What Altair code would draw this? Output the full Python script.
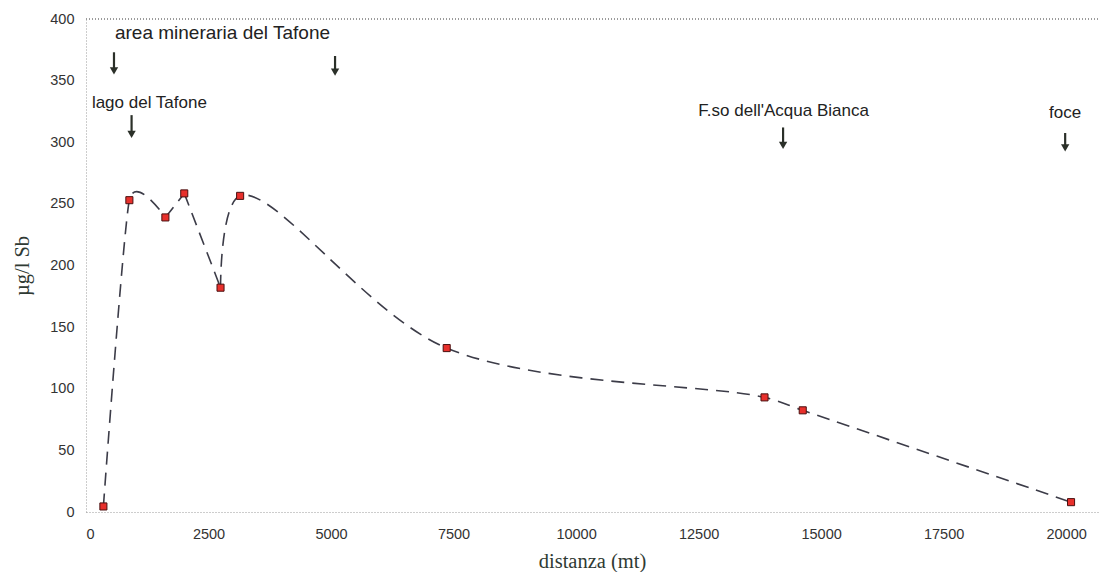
import altair as alt
import pandas as pd

# ---- data ----
dist = [355, 885, 1620, 2005, 2745, 3145, 7360, 13845, 14625, 20100]
sb = [4.5, 253, 239, 258.5, 182, 256.5, 133, 93, 82.5, 8]
# indices where the smoothed curve has a corner (curve is split there)
corner_idx = [2, 3, 4]

x_ticks = [0, 2500, 5000, 7500, 10000, 12500, 15000, 17500, 20000]
y_ticks = [0, 50, 100, 150, 200, 250, 300, 350, 400]

ann_text = ["area mineraria del Tafone", "lago del Tafone", "F.so dell'Acqua Bianca", "foce"]
ann_x = [590, 120, 14235, 19980]
ann_y = [388.5, 332, 325.5, 324]
ann_align = ["left", "left", "center", "center"]

arrow_x = [571, 5082, 930, 14224, 19980]
arrow_top = [373, 370, 322, 312, 307.5]
arrow_tip = [354.5, 353.5, 303, 294, 292]

XMAX = 20650
YMAX = 400

# ---- tables ----
pts = pd.DataFrame({"dist": dist, "sb": sb})
bounds = [0] + corner_idx + [len(dist) - 1]
rows = []
for s in range(len(bounds) - 1):
    for i in range(bounds[s], bounds[s + 1] + 1):
        rows.append({"dist": dist[i], "sb": sb[i], "seg": s, "order": i})
line_df = pd.DataFrame(rows)
first_seg = line_df[line_df.seg == 0]
other_seg = line_df[line_df.seg > 0]

ann_df = pd.DataFrame({"t": ann_text, "x": ann_x, "y": ann_y, "a": ann_align})
arr_df = pd.DataFrame({"x": arrow_x, "top": arrow_top, "tip": arrow_tip})
arr_df["shaft_end"] = [t + 5 for t in arrow_tip]
arr_df["head"] = [t + 3.4 for t in arrow_tip]

xs = alt.Scale(domain=[0, XMAX], nice=False, zero=False)
ys = alt.Scale(domain=[0, YMAX], nice=False)

x_axis = alt.Axis(values=x_ticks, title="distanza (mt)", grid=False, ticks=False,
                  labelPadding=15, titlePadding=11, format="d")
y_axis = alt.Axis(values=y_ticks, title="µg/l Sb", grid=False, ticks=False,
                  labelPadding=12, titlePadding=17, format="d")

line_style = dict(color="#3c3c48", strokeWidth=1.6, strokeDash=[13, 8])

line0 = alt.Chart(first_seg).mark_line(
    interpolate="cardinal", tension=0.45, **line_style
).encode(
    x=alt.X("dist:Q", scale=xs, axis=x_axis),
    y=alt.Y("sb:Q", scale=ys, axis=y_axis),
    order="order:Q",
)

line = alt.Chart(other_seg).mark_line(
    interpolate="catmull-rom", **line_style
).encode(
    x=alt.X("dist:Q", scale=xs),
    y=alt.Y("sb:Q", scale=ys),
    detail="seg:N",
    order="order:Q",
)

points = alt.Chart(pts).mark_point(
    shape="square", filled=True, fill="#e8302c", stroke="#4a1010",
    strokeWidth=1, size=50, opacity=1
).encode(x=alt.X("dist:Q", scale=xs), y=alt.Y("sb:Q", scale=ys))

top_border = alt.Chart(pts).mark_rule(
    color="#9a9a9a", strokeDash=[1, 2], strokeWidth=1
).encode(y=alt.datum(YMAX, scale=ys), x=alt.value(0), x2=alt.value(1012))

shafts = alt.Chart(arr_df).mark_rule(color="#2b3029", strokeWidth=2.2).encode(
    x=alt.X("x:Q", scale=xs), y=alt.Y("top:Q", scale=ys), y2="shaft_end:Q"
)
heads = alt.Chart(arr_df).mark_point(
    shape="triangle-down", filled=True, color="#2b3029", size=70, opacity=1
).encode(x=alt.X("x:Q", scale=xs), y=alt.Y("head:Q", scale=ys))

big_label = alt.Chart(ann_df.iloc[[0]]).mark_text(
    align="left", baseline="middle", font="Liberation Sans", fontSize=19, color="#222222"
).encode(x=alt.X("x:Q", scale=xs), y=alt.Y("y:Q", scale=ys), text="t:N")
left_labels = alt.Chart(ann_df.iloc[[1]]).mark_text(
    align="left", baseline="middle", font="Liberation Sans", fontSize=17, color="#222222"
).encode(x=alt.X("x:Q", scale=xs), y=alt.Y("y:Q", scale=ys), text="t:N")
center_labels = alt.Chart(ann_df.iloc[[2, 3]]).mark_text(
    align="center", baseline="middle", font="Liberation Sans", fontSize=17, color="#222222"
).encode(x=alt.X("x:Q", scale=xs), y=alt.Y("y:Q", scale=ys), text="t:N")

chart = alt.layer(
    top_border, line0, line, points, shafts, heads, big_label, left_labels, center_labels
).properties(
    width=1012, height=493,
    autosize=alt.AutoSizeParams(type="none"),
    padding={"left": 78, "top": 11, "right": 2, "bottom": 60},
).configure_view(stroke=None).configure_axis(
    domainColor="#9a9a9a", domainDash=[1, 2], domainWidth=1,
    labelFont="Liberation Sans", labelFontSize=14.5, labelColor="#333333",
    titleFont="Liberation Serif", titleFontSize=20.5, titleColor="#2f3a33",
    titleFontWeight="normal",
)

chart.save("out.html", embed_options={"renderer": "svg", "actions": False})
